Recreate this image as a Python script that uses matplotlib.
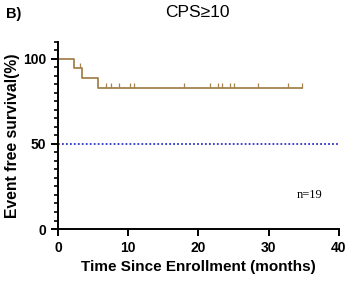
import numpy as np
import matplotlib.pyplot as plt

# follow-up times (months)
event_times = [2.3, 3.4, 5.7]
censor_times = [3.1, 6.8, 7.6, 8.7, 10.3, 10.8, 17.9, 21.6, 22.8, 23.3,
                24.5, 25.0, 28.5, 32.8, 34.7]
n_total = 19

# Kaplan-Meier estimate
times = np.array(event_times + censor_times)
events = np.array([1] * len(event_times) + [0] * len(censor_times))
order = np.lexsort((1 - events, times))
times, events = times[order], events[order]

surv = 100.0
at_risk = len(times)
step_x, step_y = [0.0], [100.0]
cens_x, cens_y = [], []
for t, e in zip(times, events):
    if e:
        surv = surv * (at_risk - 1) / at_risk
        step_x.append(t)
        step_y.append(surv)
    else:
        cens_x.append(t)
        cens_y.append(surv)
    at_risk -= 1
step_x.append(times.max())
step_y.append(surv)

plt.rcParams['font.family'] = ['Liberation Sans', 'DejaVu Sans']

fig = plt.figure(figsize=(3.49, 2.81), dpi=100)
ax = fig.add_axes([0.166, 0.185, 0.805, 0.666])

col = '#A5834E'
ax.step(step_x, step_y, where='post', color=col, lw=1.3, clip_on=False)
ax.plot(cens_x, cens_y, linestyle='none', marker=[(0, 0), (0, 1)],
        markersize=7, markeredgewidth=0.9, color=col, clip_on=False)
ax.plot([0, 40], [50, 50], linestyle=(0, (1, 1.2)), color='#2B35C9', lw=1.3)

ax.set_xlim(0, 40)
ax.set_ylim(0, 110)
ax.set_xticks([0, 10, 20, 30, 40])
ax.set_yticks([0, 50, 100])
ax.set_yticks(np.arange(0, 111, 5), minor=True)
for s in ['top', 'right']:
    ax.spines[s].set_visible(False)
for s in ['left', 'bottom']:
    ax.spines[s].set_linewidth(1.4)
ax.tick_params(axis='both', which='major', direction='out', length=5, width=1.4,
               labelsize=10)
ax.tick_params(axis='y', which='minor', direction='out', length=3, width=1.2)
for lab in ax.get_xticklabels() + ax.get_yticklabels():
    lab.set_fontweight('bold')

ax.set_xlabel('Time Since Enrollment (months)', fontsize=11, fontweight='bold', labelpad=4)
ax.set_ylabel('Event free survival(%)', fontsize=11.3, fontweight='bold', labelpad=2)
ax.text(35.8, 20, f'n={n_total}', family='Liberation Serif', fontsize=9,
        ha='center', va='center')
fig.text(0.565, 0.955, 'CPS≥10', ha='center', va='center', fontsize=12.5)
fig.text(0.018, 0.95, 'B)', ha='left', va='center', fontsize=10.5, fontweight='bold')

fig.savefig('out.png', dpi=100)
